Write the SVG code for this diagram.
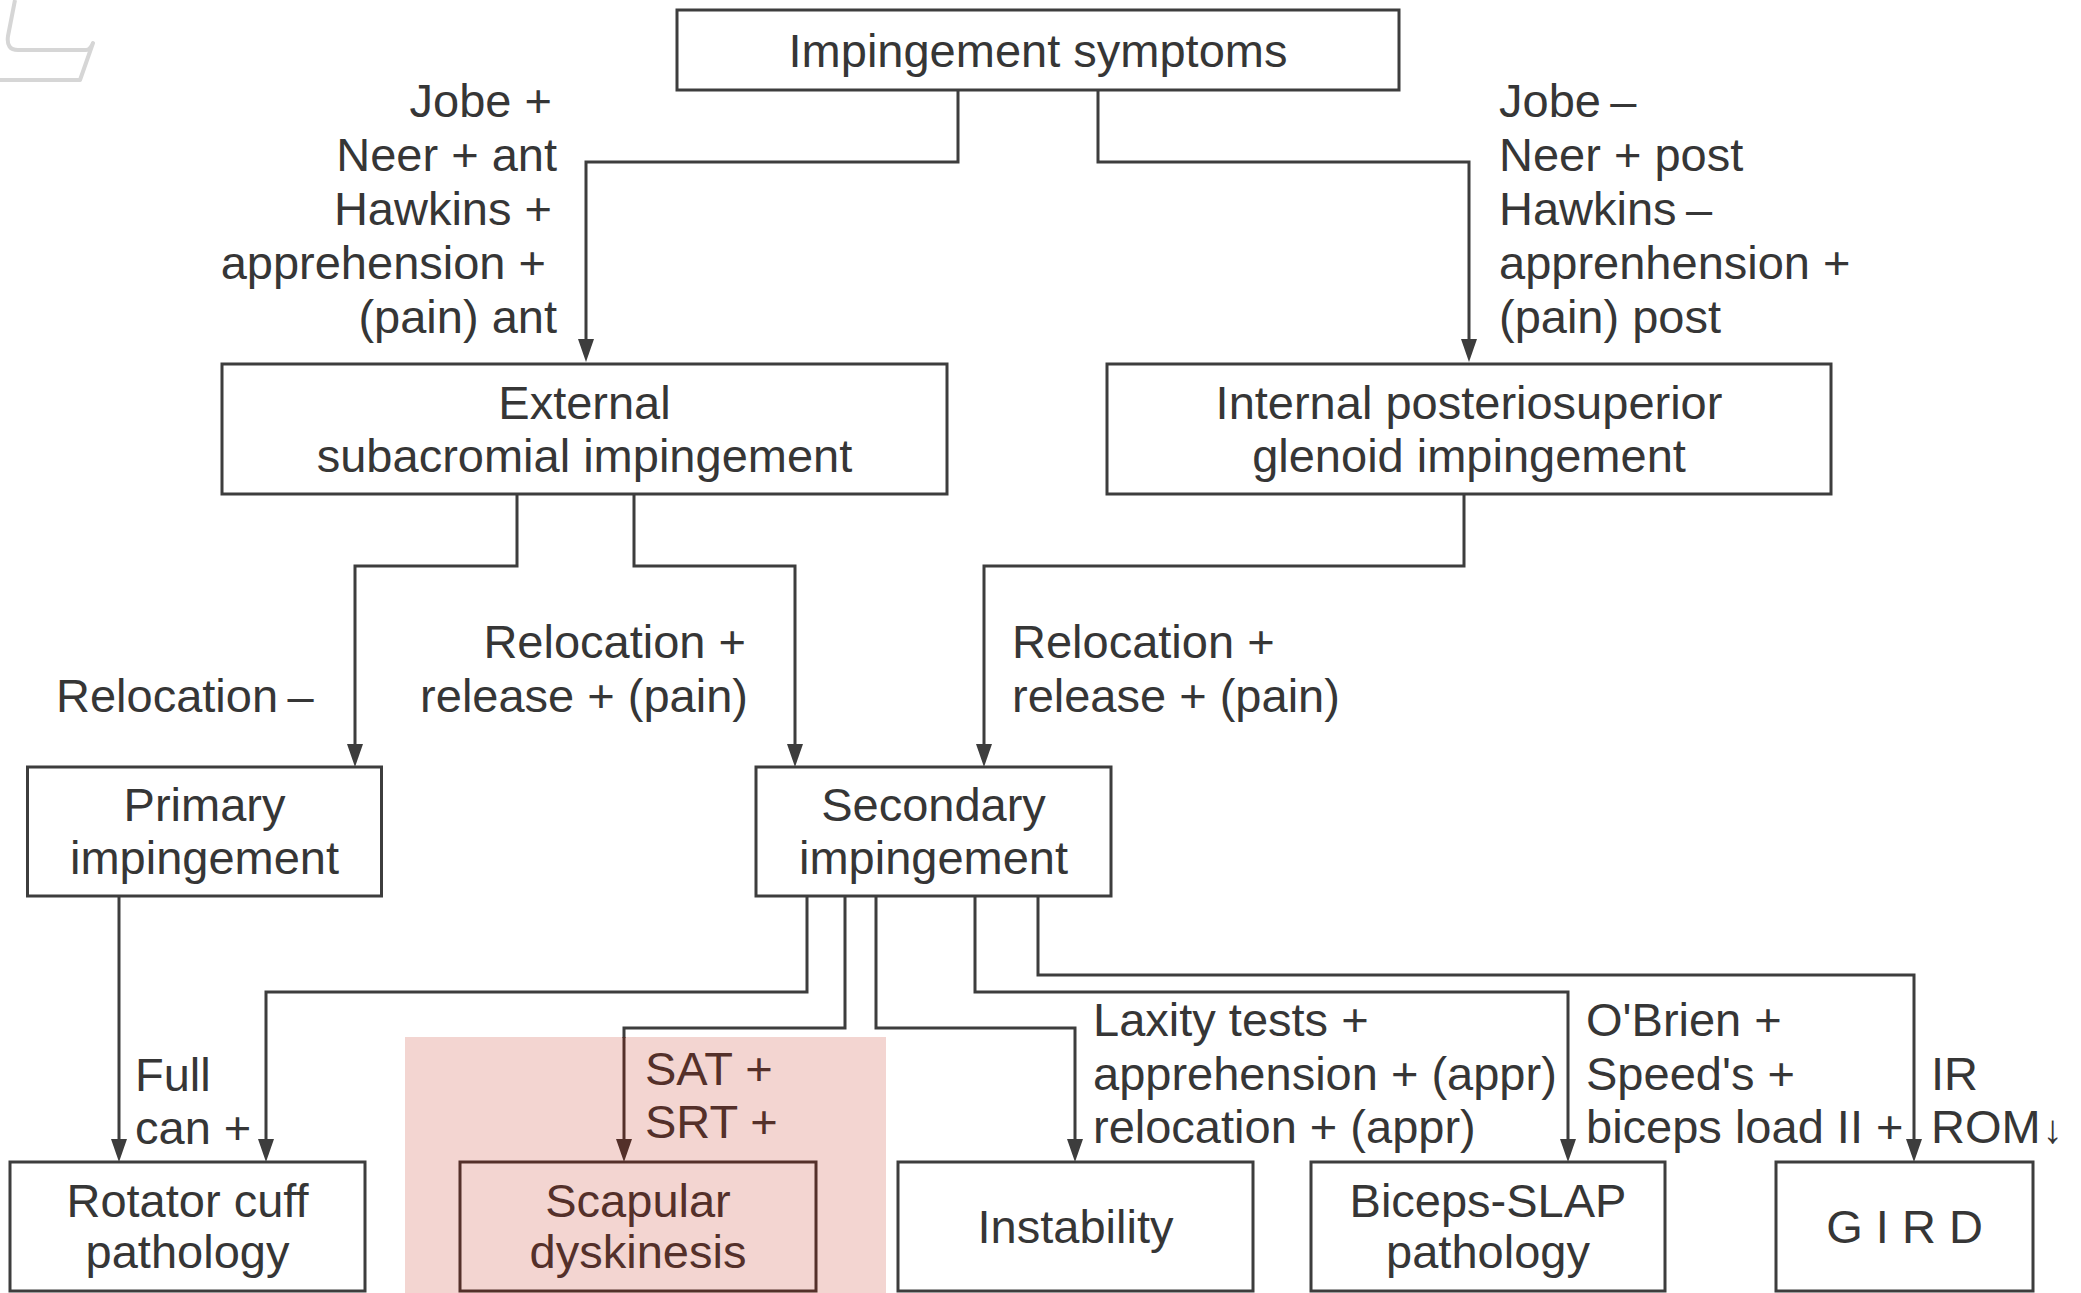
<svg xmlns="http://www.w3.org/2000/svg" width="2081" height="1293" viewBox="0 0 2081 1293">
<style>
  text { font-family: "Liberation Sans", Arial, sans-serif; font-size: 47px; fill: #363636; }
  .c { text-anchor: middle; }
  .e { text-anchor: end; }
  .box { fill: #ffffff; stroke: #3d3d3d; stroke-width: 3; }
  .bbox { fill: none; stroke: #54302a; stroke-width: 3; }
  .br { fill: #54302a; }
  .ln { fill: none; stroke: #3d3d3d; stroke-width: 3; }
  .lnb { fill: none; stroke: #54302a; stroke-width: 3; }
  .arr { marker-end: url(#ah); }
  .arrb { marker-end: url(#ahb); }
</style>
<defs>
  <marker id="ah" markerUnits="userSpaceOnUse" markerWidth="24" markerHeight="18" refX="13" refY="9" orient="auto">
    <path d="M0,1 L23,9 L0,17 Z" fill="#3d3d3d"/>
  </marker>
  <marker id="ahb" markerUnits="userSpaceOnUse" markerWidth="24" markerHeight="18" refX="13" refY="9" orient="auto">
    <path d="M0,1 L23,9 L0,17 Z" fill="#54302a"/>
  </marker>
</defs>
<rect width="2081" height="1293" fill="#ffffff"/>

<!-- watermark fragment -->
<g id="watermark" fill="none" stroke="#d6d6d6" stroke-width="4" stroke-linejoin="round">
  <path d="M15,0 L8,36 Q6,50 18,50 L86,50 Q90,50 93,43 L80,80 L0,80"/>
</g>

<!-- highlight -->
<rect id="highlight" x="405" y="1037" width="481" height="256" fill="#f3d5d1"/>

<g id="connectors">
  <path class="ln arr" d="M958,90 V162 H586 V352"/>
  <path class="ln arr" d="M1098,90 V162 H1469 V352"/>
  <path class="ln arr" d="M517,494 V566 H355 V757"/>
  <path class="ln arr" d="M634,494 V566 H795 V757"/>
  <path class="ln arr" d="M1464,494 V566 H984 V757"/>
  <path class="ln arr" d="M119,896 V1152"/>
  <path class="ln arr" d="M807,896 V992 H266 V1152"/>
  <path class="ln" d="M845,896 V1028 H624 V1038"/>
  <path class="lnb arrb" d="M624,1037 V1152"/>
  <path class="ln arr" d="M876,896 V1028 H1075 V1152"/>
  <path class="ln arr" d="M975,896 V992 H1568 V1152"/>
  <path class="ln arr" d="M1038,896 V975 H1914 V1152"/>
</g>

<g id="labels">
  <text class="e" x="552" y="117">Jobe +</text>
  <text class="e" x="557" y="171">Neer + ant</text>
  <text class="e" x="552" y="225">Hawkins +</text>
  <text class="e" x="546" y="279">apprehension +</text>
  <text class="e" x="557" y="333">(pain) ant</text>

  <text x="1499" y="117">Jobe&#8201;–</text>
  <text x="1499" y="171">Neer + post</text>
  <text x="1499" y="225">Hawkins&#8201;–</text>
  <text x="1499" y="279">apprenhension +</text>
  <text x="1499" y="333">(pain) post</text>

  <text x="56" y="712">Relocation&#8201;–</text>
  <text class="e" x="746" y="658">Relocation +</text>
  <text class="e" x="748" y="712">release + (pain)</text>
  <text x="1012" y="658">Relocation +</text>
  <text x="1012" y="712">release + (pain)</text>

  <text x="135" y="1091">Full</text>
  <text x="135" y="1144">can +</text>
  <text class="br" x="645" y="1085">SAT +</text>
  <text class="br" x="645" y="1138">SRT +</text>
  <text x="1093" y="1036">Laxity tests +</text>
  <text x="1093" y="1090">apprehension + (appr)</text>
  <text x="1093" y="1143">relocation + (appr)</text>
  <text x="1586" y="1036">O'Brien +</text>
  <text x="1586" y="1090">Speed's +</text>
  <text x="1586" y="1143">biceps load II +</text>
  <text x="1931" y="1090">IR</text>
  <text x="1931" y="1143">ROM<tspan font-size="40" dx="2">↓</tspan></text>
</g>

<g id="n-symptoms">
  <rect class="box" x="677" y="10" width="722" height="80"/>
  <text class="c" x="1038" y="67">Impingement symptoms</text>
</g>
<g id="n-external">
  <rect class="box" x="222" y="364" width="725" height="130"/>
  <text class="c" x="584.5" y="419">External</text>
  <text class="c" x="584.5" y="472">subacromial impingement</text>
</g>
<g id="n-internal">
  <rect class="box" x="1107" y="364" width="724" height="130"/>
  <text class="c" x="1469" y="419">Internal posteriosuperior</text>
  <text class="c" x="1469" y="472">glenoid impingement</text>
</g>
<g id="n-primary">
  <rect class="box" x="27.5" y="767" width="354" height="129"/>
  <text class="c" x="204.5" y="821">Primary</text>
  <text class="c" x="204.5" y="874">impingement</text>
</g>
<g id="n-secondary">
  <rect class="box" x="756" y="767" width="355" height="129"/>
  <text class="c" x="933.5" y="821">Secondary</text>
  <text class="c" x="933.5" y="874">impingement</text>
</g>
<g id="n-rotator">
  <rect class="box" x="10" y="1162" width="355" height="129"/>
  <text class="c" x="187.5" y="1217">Rotator cuff</text>
  <text class="c" x="187.5" y="1268">pathology</text>
</g>
<g id="n-scapular">
  <rect class="bbox" x="460" y="1162" width="356" height="129"/>
  <text class="c br" x="638" y="1217">Scapular</text>
  <text class="c br" x="638" y="1268">dyskinesis</text>
</g>
<g id="n-instability">
  <rect class="box" x="898" y="1162" width="355" height="129"/>
  <text class="c" x="1075.5" y="1243">Instability</text>
</g>
<g id="n-biceps">
  <rect class="box" x="1311" y="1162" width="354" height="129"/>
  <text class="c" x="1488" y="1217">Biceps-SLAP</text>
  <text class="c" x="1488" y="1268">pathology</text>
</g>
<g id="n-gird">
  <rect class="box" x="1776" y="1162" width="257" height="129"/>
  <text class="c" x="1904.5" y="1243">G I R D</text>
</g>
</svg>
